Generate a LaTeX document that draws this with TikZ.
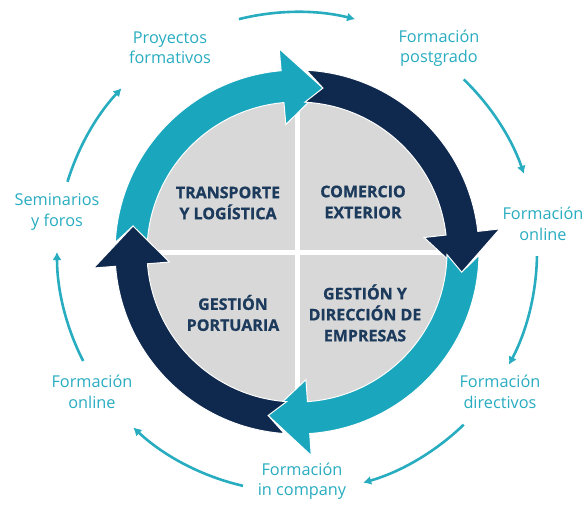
\documentclass[tikz,border=0pt]{standalone}
\usepackage{fontspec}
\setmainfont{Open Sans}[BoldFeatures={FakeBold=0.8}]
\usepackage{tikz}
\usetikzlibrary{arrows.meta}
\definecolor{ringcyan}{RGB}{26,167,190}
\definecolor{ringnavy}{RGB}{14,40,78}
\definecolor{quadgray}{RGB}{216,216,216}
\definecolor{lblteal}{RGB}{40,172,192}
\definecolor{quadtext}{RGB}{28,58,92}
\begin{document}
\begin{tikzpicture}[x=1pt, y=1pt,
  lbl/.style={align=center, text=lblteal, font=\fontsize{16.3}{20.5}\selectfont},
  quad/.style={align=center, text=quadtext, font=\fontsize{16}{21}\selectfont\bfseries},
  flow/.style={draw=lblteal, line width=2.6pt, -{Latex[length=8pt,width=9pt]}},
  ring/.style={draw=white, line width=1pt}]
\useasboundingbox (-297,-254) rectangle (291,252);
% quadrants
\fill[quadgray] (0,0) circle[radius=152];
\draw[white, line width=5] (-160,0) -- (160,0);
\draw[white, line width=5] (0,-160) -- (0,160);
\node[quad] (transp) at (-69,49) {TRANSPORTE\\Y LOGÍSTICA};
\node[quad] (comer) at (66,50) {COMERCIO\\EXTERIOR};
\node[quad] (portu) at (-64,-61) {GESTIÓN\\PORTUARIA};
\node[quad] (empre) at (68,-61) {GESTIÓN Y\\DIRECCIÓN DE\\EMPRESAS};
% ring arrows
\fill[ringcyan, ring] (177:182) arc[start angle=177, end angle=95, radius=182] -- (95:204) -- (81:166) -- (95:128) -- (95:150) arc[start angle=95, end angle=177, radius=150] -- (171:166) -- cycle;
\fill[ringnavy, ring] (87:182) arc[start angle=87, end angle=6.5, radius=182] -- (6.5:204) -- (-7:166) -- (6.5:128) -- (6.5:150) arc[start angle=6.5, end angle=87, radius=150] -- (81:166) -- cycle;
\fill[ringcyan, ring] (-1:182) arc[start angle=-1, end angle=-86, radius=182] -- (-86:204) -- (-100:166) -- (-86:128) -- (-86:150) arc[start angle=-86, end angle=-1, radius=150] -- (-7:166) -- cycle;
\fill[ringnavy, ring] (266:182) arc[start angle=266, end angle=184.5, radius=182] -- (184.5:204) -- (171:166) -- (184.5:128) -- (184.5:150) arc[start angle=184.5, end angle=266, radius=150] -- (260:166) -- cycle;
% outer labels
\node[lbl] (proj) at (-127,204) {Proyectos\\formativos};
\node[lbl] (postg) at (142,204) {Formación\\postgrado};
\node[lbl] (onlineR) at (246,28) {Formación\\online};
\node[lbl] (direct) at (203,-140) {Formación\\directivos};
\node[lbl] (incomp) at (5,-229) {Formación\\in company};
\node[lbl] (onlineL) at (-205,-140) {Formación\\online};
\node[lbl] (semin) at (-240,40) {Seminarios\\y foros};
% outer flow
\coordinate (f1) at (104:240);
\coordinate (f2) at (46:240);
\coordinate (f3) at (-1:240);
\coordinate (f4) at (-46:240);
\coordinate (f5) at (257:240);
\coordinate (f6) at (207:240);
\coordinate (f7) at (163:240);
\draw[flow] (f1) arc[start angle=104, end angle=76, radius=240];
\draw[flow] (f2) arc[start angle=46, end angle=19, radius=240];
\draw[flow] (f3) arc[start angle=-1, end angle=-28, radius=240];
\draw[flow] (f4) arc[start angle=-46, end angle=-74, radius=240];
\draw[flow] (f5) arc[start angle=257, end angle=227, radius=240];
\draw[flow] (f6) arc[start angle=207, end angle=180, radius=240];
\draw[flow] (f7) arc[start angle=163, end angle=137, radius=240];
\end{tikzpicture}
\end{document}
